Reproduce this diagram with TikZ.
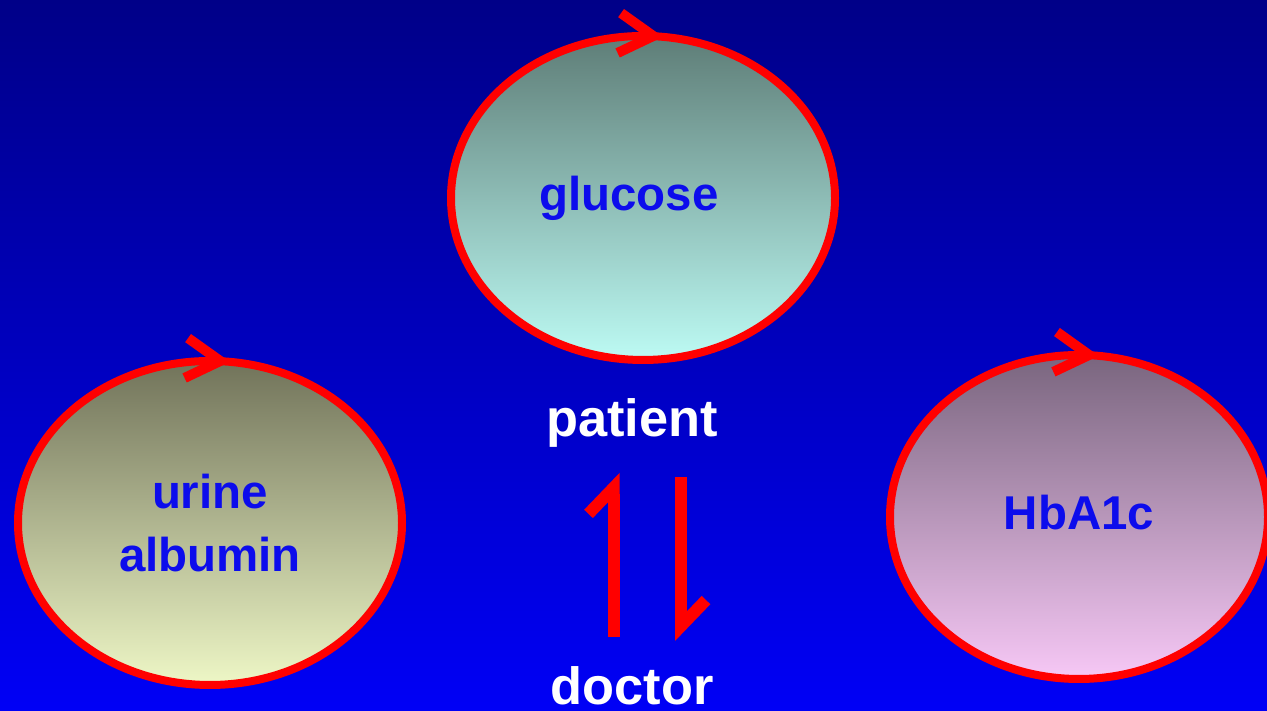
\documentclass[tikz,border=0pt]{standalone}
\usepackage{fontspec}
\setmainfont{Liberation Sans}
\usetikzlibrary{arrows.meta,positioning,shapes.geometric,decorations.markings}
\definecolor{bgtop}{HTML}{000088}
\definecolor{bgbot}{HTML}{0000F6}
\definecolor{labelblue}{HTML}{0C0CEC}
\definecolor{gluTop}{HTML}{5E7D77}
\definecolor{gluBot}{HTML}{BDFBF4}
\definecolor{albTop}{HTML}{71735A}
\definecolor{albBot}{HTML}{EEF7C6}
\definecolor{hbTop}{HTML}{79657E}
\definecolor{hbBot}{HTML}{F7C8F6}

\begin{document}
\begin{tikzpicture}[
  every node/.style={font=\bfseries},
  bubble/.style={ellipse, draw=red, line width=0.08cm, minimum width=3.84cm,
    minimum height=3.24cm, inner sep=0pt, align=center, text=labelblue,
    font=\fontsize{13.5}{17.9}\selectfont\bfseries,
    postaction={decorate, decoration={markings, mark=at position 0.232 with
      {\arrowreversed{Straight Barb[color=red, line width=0.1cm, length=0.34cm, width=0.4cm]}}}}},
  role/.style={text=white, font=\fontsize{14.9}{18}\selectfont\bfseries},
  harp/.style={red, line width=0.12cm,
    -{Straight Barb[left, sharp, length=0.26cm, width=0.5cm]}},
]
\useasboundingbox (0,0) rectangle (12.67,7.11);
% Background
\shade[top color=bgtop, bottom color=bgbot] (0,0) rectangle (12.67,7.11);

% Measurements
\node[bubble, top color=gluTop, bottom color=gluBot] (glucose) at (6.43,5.13) {glucose\hspace*{0.28cm}};
\node[bubble, top color=albTop, bottom color=albBot] (albumin) at (2.10,1.88) {urine\\albumin};
\node[bubble, top color=hbTop, bottom color=hbBot, minimum width=3.78cm] (hba1c) at (10.79,1.94) {\raisebox{0.1cm}{HbA1c}};

% Patient and doctor
\node[role, anchor=base] (patient) at (6.32,2.74) {patient};
\node[role, anchor=base] (doctor) at ([yshift=-2.68cm]patient.base) {doctor};

% Exchange
\coordinate (upFrom) at (6.135,0.74);
\coordinate (upTo) at (6.135,2.38);
\coordinate (downFrom) at (6.81,2.34);
\coordinate (downTo) at (6.81,0.70);
\draw[harp] (upFrom) -- (upTo);
\draw[harp] (downFrom) -- (downTo);
\end{tikzpicture}
\end{document}
